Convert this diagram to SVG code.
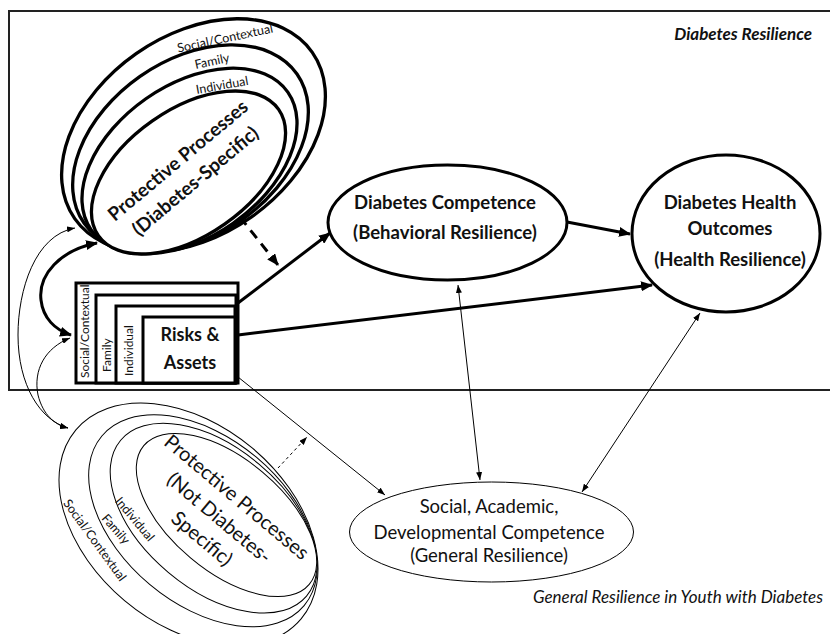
<svg xmlns="http://www.w3.org/2000/svg" width="830" height="634" viewBox="0 0 830 634">
<defs>
<style>
text{font-family:Lato,"Liberation Sans",sans-serif;fill:#111}
.b{font-weight:bold}
.c{text-anchor:middle;dominant-baseline:central}
.thk{fill:none;stroke:#000;stroke-width:3}
.thn{fill:none;stroke:#000;stroke-width:1}
.ring{fill:#fff;stroke:#000;stroke-width:3.3}
.ringl{fill:#fff;stroke:#000;stroke-width:1}
.box{fill:#fff;stroke:#000;stroke-width:3}
.lbl{font-size:12.5px}
.blbl{font-size:12px}
</style>
<marker id="ah" viewBox="0 0 12 10" refX="11" refY="5" markerWidth="12" markerHeight="10" markerUnits="userSpaceOnUse" orient="auto-start-reverse"><path d="M0,0 L12,5 L0,10 z" fill="#000"/></marker>
<marker id="as" viewBox="0 0 8 6" refX="8" refY="3" markerWidth="8" markerHeight="6" markerUnits="userSpaceOnUse" orient="auto-start-reverse"><path d="M0,0 L8,3 L0,6 z" fill="#000"/></marker>
</defs>
<rect width="830" height="634" fill="#fff"/>
<path d="M830,11 H9 V390 H830" fill="none" stroke="#222" stroke-width="2"/>
<text x="812" y="40" class="b" font-style="italic" font-size="17" text-anchor="end">Diabetes Resilience</text>
<text x="823" y="603" font-style="italic" font-size="17" text-anchor="end">General Resilience in Youth with Diabetes</text>

<g id="protective-diabetes">
<ellipse class="ring" cx="193.5" cy="135.5" rx="145" ry="100" transform="rotate(-35 193.5 135.5)"/>
<ellipse class="ring" cx="190.5" cy="148.5" rx="130" ry="88" transform="rotate(-35 190.5 148.5)"/>
<ellipse class="ring" cx="189.5" cy="161" rx="120" ry="76" transform="rotate(-35 189.5 161)"/>
<ellipse class="ring" cx="188.5" cy="172.5" rx="110" ry="63" transform="rotate(-35 188.5 172.5)"/>
<text class="c lbl" transform="translate(225,38) rotate(-12)">Social/Contextual</text>
<text class="c lbl" transform="translate(212,61) rotate(-12)">Family</text>
<text class="c lbl" transform="translate(222,85) rotate(-10)">Individual</text>
<g transform="translate(186,170) rotate(-40)">
<text class="c b" y="-13.5" font-size="19">Protective Processes</text>
<text class="c b" y="13.5" font-size="19">(Diabetes-Specific)</text>
</g>
</g>

<g id="protective-general">
<ellipse class="ringl" cx="188.5" cy="524.4" rx="147" ry="99.5" transform="rotate(40 188.5 524.4)"/>
<ellipse class="ringl" cx="203" cy="520.8" rx="132" ry="83" transform="rotate(40 203 520.8)"/>
<ellipse class="ringl" cx="213.6" cy="518.2" rx="121.3" ry="70.6" transform="rotate(40 213.6 518.2)"/>
<ellipse class="ringl" cx="226.5" cy="515" rx="108" ry="56" transform="rotate(40 226.5 515)"/>
<text class="c lbl" transform="translate(95,540) rotate(54)">Social/Contextual</text>
<text class="c lbl" transform="translate(116,529) rotate(49)">Family</text>
<text class="c lbl" transform="translate(135,519) rotate(50)">Individual</text>
<g transform="translate(220,517) rotate(40)">
<text class="c" y="-27" font-size="20">Protective Processes</text>
<text class="c" y="0" font-size="20">(Not Diabetes-</text>
<text class="c" y="27" font-size="20">Specific)</text>
</g>
</g>

<g id="risks-assets">
<rect class="box" x="76" y="283" width="162" height="100"/>
<text class="blbl" transform="translate(89,378) rotate(-90)">Social/Contextual</text>
<rect class="box" x="96" y="295" width="140" height="88"/>
<text class="blbl" transform="translate(110.5,372) rotate(-90)">Family</text>
<rect class="box" x="116" y="306" width="119" height="77"/>
<text class="blbl" transform="translate(132.5,376) rotate(-90)">Individual</text>
<rect class="box" x="143" y="317" width="92" height="66"/>
<text class="b" x="190" y="341" font-size="18" text-anchor="middle">Risks &amp;</text>
<text class="b" x="190" y="369" font-size="18" text-anchor="middle">Assets</text>
</g>

<g id="diabetes-competence">
<ellipse cx="447.5" cy="222.5" rx="119.5" ry="57.5" fill="#fff" stroke="#000" stroke-width="3"/>
<text class="b" x="445" y="209" font-size="18.5" text-anchor="middle">Diabetes Competence</text>
<text class="b" x="445" y="239" font-size="18.5" text-anchor="middle">(Behavioral Resilience)</text>
</g>

<g id="health-outcomes">
<ellipse cx="726" cy="233.5" rx="94" ry="78.5" fill="#fff" stroke="#000" stroke-width="3"/>
<text class="b" x="730" y="209" font-size="18.5" text-anchor="middle">Diabetes Health</text>
<text class="b" x="730" y="235" font-size="18.5" text-anchor="middle">Outcomes</text>
<text class="b" x="730" y="266" font-size="18.5" text-anchor="middle">(Health Resilience)</text>
</g>

<g id="general-competence">
<ellipse cx="491.5" cy="532" rx="142" ry="50" fill="#fff" stroke="#000" stroke-width="1"/>
<text x="489" y="513" font-size="18.5" text-anchor="middle">Social, Academic,</text>
<text x="489" y="539" font-size="18.5" text-anchor="middle">Developmental Competence</text>
<text x="489" y="562" font-size="18.5" text-anchor="middle">(General Resilience)</text>
</g>

<g id="connectors">
<path class="thk" d="M238,303 L330,233" marker-end="url(#ah)"/>
<path class="thk" d="M238,335 L652,285" marker-end="url(#ah)"/>
<path class="thk" d="M567,222 L630,234" marker-end="url(#ah)"/>
<path class="thk" d="M240,217 L278,265" stroke-dasharray="10,7" marker-end="url(#ah)"/>
<path class="thk" d="M97,243 C60,250 38,275 41,300 C43,318 55,330 71,335" marker-start="url(#ah)" marker-end="url(#ah)"/>
<path class="thn" d="M458,285 L480,480" marker-start="url(#as)" marker-end="url(#as)"/>
<path class="thn" d="M700,313 L582,492" marker-start="url(#as)" marker-end="url(#as)"/>
<path class="thn" d="M238,377 L385,495" marker-end="url(#as)"/>
<path class="thn" d="M278,468 L307,437" stroke-dasharray="3,3" marker-end="url(#as)"/>
<path class="thn" d="M75,228 C35,235 18,290 18,335 C18,385 40,420 68,428" marker-start="url(#as)" marker-end="url(#as)"/>
<path class="thn" d="M70,338 C45,348 33,370 38,395 C43,415 55,425 68,428" marker-start="url(#as)" marker-end="url(#as)"/>
</g>
</svg>
